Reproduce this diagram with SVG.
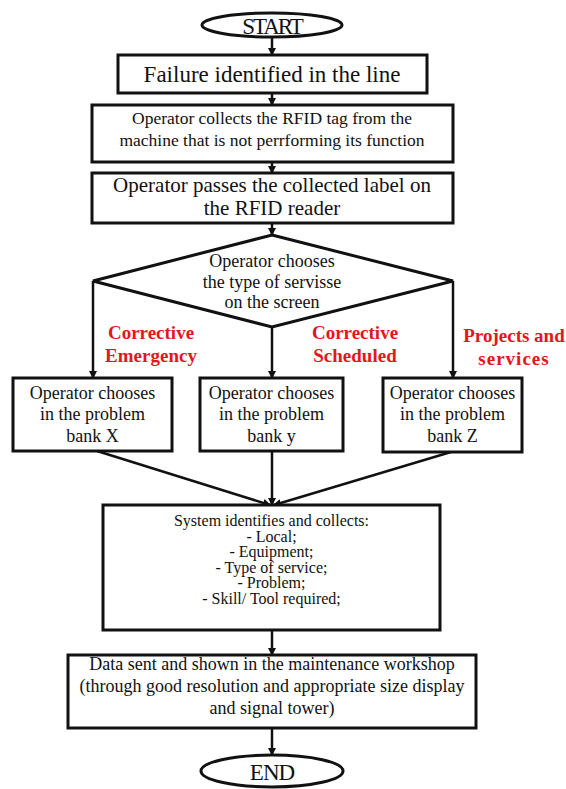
<svg xmlns="http://www.w3.org/2000/svg" width="566" height="789" viewBox="0 0 566 789">
  <style>
    .shape { fill: #ffffff; stroke: #111111; stroke-width: 3; }
    .link { fill: none; stroke: #111111; stroke-width: 2.5; }
    text { font-family: "Liberation Serif", "Times New Roman", serif; fill: #111111; text-anchor: middle; }
    .term { font-size: 23px; }
    .big { font-size: 23px; }
    .mid { font-size: 21px; }
    .std { font-size: 18px; }
    .sm { font-size: 17.5px; }
    .list { font-size: 16px; }
    .branch { font-size: 19px; font-weight: bold; fill: #e3161b; }
  </style>
  <defs>
    <marker id="arrow" markerUnits="userSpaceOnUse" markerWidth="8" markerHeight="8" refX="7" refY="4" orient="auto">
      <path d="M0,0 L8,4 L0,8 z" fill="#111111"/>
    </marker>
  </defs>
  <rect width="566" height="789" fill="#ffffff"/>

  <!-- connectors -->
  <g id="connectors" marker-end="url(#arrow)">
    <line class="link" x1="272" y1="37" x2="272" y2="55"/>
    <line class="link" x1="272" y1="93" x2="272" y2="105"/>
    <line class="link" x1="272" y1="162" x2="272" y2="173"/>
    <line class="link" x1="272" y1="223" x2="272" y2="235"/>
    <line class="link" x1="93" y1="281" x2="93" y2="378"/>
    <line class="link" x1="272" y1="327" x2="272" y2="378"/>
    <line class="link" x1="453" y1="281" x2="453" y2="378"/>
    <line class="link" x1="97" y1="451" x2="270" y2="505"/>
    <line class="link" x1="272" y1="451" x2="272" y2="505"/>
    <line class="link" x1="451" y1="452" x2="274" y2="505"/>
    <line class="link" x1="272" y1="630" x2="272" y2="655"/>
    <line class="link" x1="272" y1="728" x2="272" y2="755"/>
  </g>

  <g id="start">
    <ellipse class="shape" cx="272" cy="25" rx="70" ry="12"/>
    <text class="term" x="272" y="34" letter-spacing="-2">START</text>
  </g>

  <g id="failure">
    <rect class="shape" x="118" y="55" width="309" height="38"/>
    <text class="big" x="272" y="82">Failure identified in the line</text>
  </g>

  <g id="collect-tag">
    <rect class="shape" x="92" y="105" width="361" height="57"/>
    <text class="sm" x="272" y="124">Operator collects the RFID tag from the</text>
    <text class="sm" x="272" y="146">machine that is not perrforming its function</text>
  </g>

  <g id="pass-label">
    <rect class="shape" x="92" y="173" width="361" height="50"/>
    <text class="mid" x="272" y="192">Operator passes the collected label on</text>
    <text class="mid" x="272" y="215">the RFID reader</text>
  </g>

  <g id="choose-service">
    <polygon class="shape" points="272,235 453,281 272,327 93,281"/>
    <text class="std" x="272" y="267">Operator chooses</text>
    <text class="std" x="272" y="288">the type of servisse</text>
    <text class="std" x="272" y="308">on the screen</text>
  </g>

  <g id="branch-labels">
    <text class="branch" x="151" y="339">Corrective</text>
    <text class="branch" x="151" y="362">Emergency</text>
    <text class="branch" x="355" y="339">Corrective</text>
    <text class="branch" x="355" y="362">Scheduled</text>
    <text class="branch" x="514" y="342">Projects and</text>
    <text class="branch" x="514" y="365" letter-spacing="1">services</text>
  </g>

  <g id="bank-x">
    <rect class="shape" x="13" y="378" width="159" height="73"/>
    <text class="std" x="92.5" y="399">Operator chooses</text>
    <text class="std" x="92.5" y="420">in the problem</text>
    <text class="std" x="92.5" y="442">bank X</text>
  </g>

  <g id="bank-y">
    <rect class="shape" x="200" y="378" width="143" height="73"/>
    <text class="std" x="271.5" y="399">Operator chooses</text>
    <text class="std" x="271.5" y="420">in the problem</text>
    <text class="std" x="271.5" y="442">bank y</text>
  </g>

  <g id="bank-z">
    <rect class="shape" x="383" y="378" width="139" height="74"/>
    <text class="std" x="452.5" y="399">Operator chooses</text>
    <text class="std" x="452.5" y="420">in the problem</text>
    <text class="std" x="452.5" y="442">bank Z</text>
  </g>

  <g id="system-collects">
    <rect class="shape" x="103" y="505" width="337" height="125"/>
    <text class="list" x="271.5" y="526">System identifies and collects:</text>
    <text class="list" x="271.5" y="541.5">- Local;</text>
    <text class="list" x="271.5" y="557">- Equipment;</text>
    <text class="list" x="271.5" y="572.5">- Type of service;</text>
    <text class="list" x="271.5" y="588">- Problem;</text>
    <text class="list" x="271.5" y="603.5">- Skill/ Tool required;</text>
  </g>

  <g id="data-sent">
    <rect class="shape" x="68" y="655" width="408" height="73"/>
    <text class="std" x="272" y="670">Data sent and shown in the maintenance workshop</text>
    <text class="std" x="272" y="692">(through good resolution and appropriate size display</text>
    <text class="std" x="272" y="714">and signal tower)</text>
  </g>

  <g id="end">
    <ellipse class="shape" cx="272" cy="771" rx="71" ry="16"/>
    <text class="term" x="272" y="780" letter-spacing="-1">END</text>
  </g>
</svg>
